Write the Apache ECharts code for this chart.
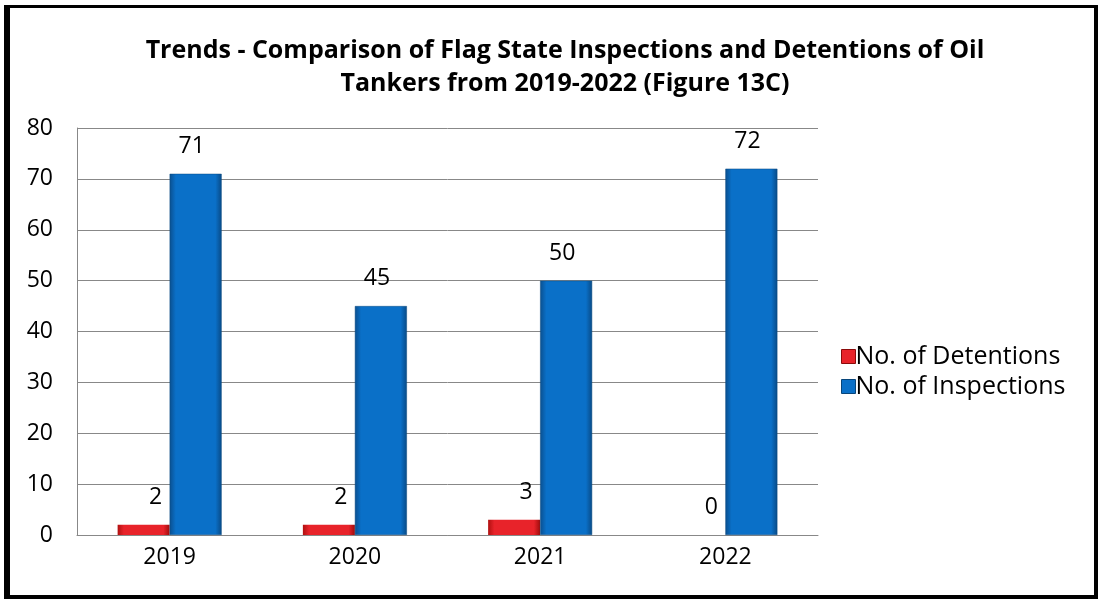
<!DOCTYPE html>
<html><head><meta charset="utf-8">
<script src="https://cdn.jsdelivr.net/npm/echarts@6/dist/echarts.min.js"></script>
<style>
html,body{margin:0;padding:0;background:#fff;}
#frame{position:absolute;left:4px;top:5px;width:1094px;height:594px;border-left:6px solid #000;border-top:3px solid #000;border-right:4px solid #000;border-bottom:4px solid #000;box-sizing:border-box;}
#c{position:absolute;left:0;top:0;width:1102px;height:603px;}
</style></head><body>
<div id="c"></div>
<div id="frame"></div>
<script>
const categories = ['2019','2020','2021','2022'];
const detentions = [2, 2, 3, 0];
const inspections = [71, 45, 50, 72];
const yTicks = [0,10,20,30,40,50,60,70,80];

const chart = echarts.init(document.getElementById('c'));
const font = '"Open Sans", sans-serif';
function grad(c1,c2,c3){
  return new echarts.graphic.LinearGradient(0,0,1,0,[
    {offset:0,color:c1},{offset:0.12,color:c2},{offset:0.88,color:c2},{offset:1,color:c3}]);
}
chart.setOption({
  animation:false,
  title:{
    text:'Trends - Comparison of Flag State Inspections and Detentions of Oil\nTankers from 2019-2022 (Figure 13C)',
    left:560, top:29, textAlign:'center',
    textStyle:{fontFamily:font,fontWeight:'bold',fontSize:25,color:'#000',lineHeight:33}
  },
  legend:{
    orient:'vertical', left:836, top:339, itemWidth:14, itemHeight:14, itemGap:5,
    icon:'rect',
    textStyle:{fontFamily:font,fontSize:25,color:'#000',padding:[0,0,0,-5]},
    data:[
      {name:'No. of Detentions',itemStyle:{color:'#e8232a',borderColor:'#8a0a0a',borderWidth:1}},
      {name:'No. of Inspections',itemStyle:{color:'#0a70c8',borderColor:'#08457a',borderWidth:1}}
    ]
  },
  grid:{left:77,right:284,top:128,bottom:68},
  xAxis:{
    type:'category', data:categories,
    axisLine:{lineStyle:{color:'#888'}},
    axisTick:{show:false},
    axisLabel:{fontFamily:font,fontSize:23,color:'#000',margin:11}
  },
  yAxis:{
    type:'value', min:0, max:80, interval:10,
    axisLine:{show:true,lineStyle:{color:'#888'}},
    axisTick:{show:false},
    axisLabel:{fontFamily:font,fontSize:23,color:'#000',margin:24,
      formatter:v=>yTicks.includes(v)?String(v):''},
    splitLine:{lineStyle:{color:'#888',width:1}}
  },
  series:[
    {name:'No. of Detentions',type:'bar',data:detentions,barWidth:52,barGap:'0%',
     itemStyle:{color:grad('#b01010','#e8232a','#a00c0c')},
     label:{show:true,position:'top',distance:16,offset:[12,0],fontFamily:font,fontSize:23,color:'#000'}},
    {name:'No. of Inspections',type:'bar',data:inspections,barWidth:52,barGap:'0%',
     itemStyle:{color:grad('#0a4f8f','#0a70c8','#084a86'),borderColor:'#0a4a80',borderWidth:0.5},
     label:{show:true,position:'top',distance:16,offset:[-4,0],fontFamily:font,fontSize:23,color:'#000'}}
  ]
});
</script>
</body></html>
